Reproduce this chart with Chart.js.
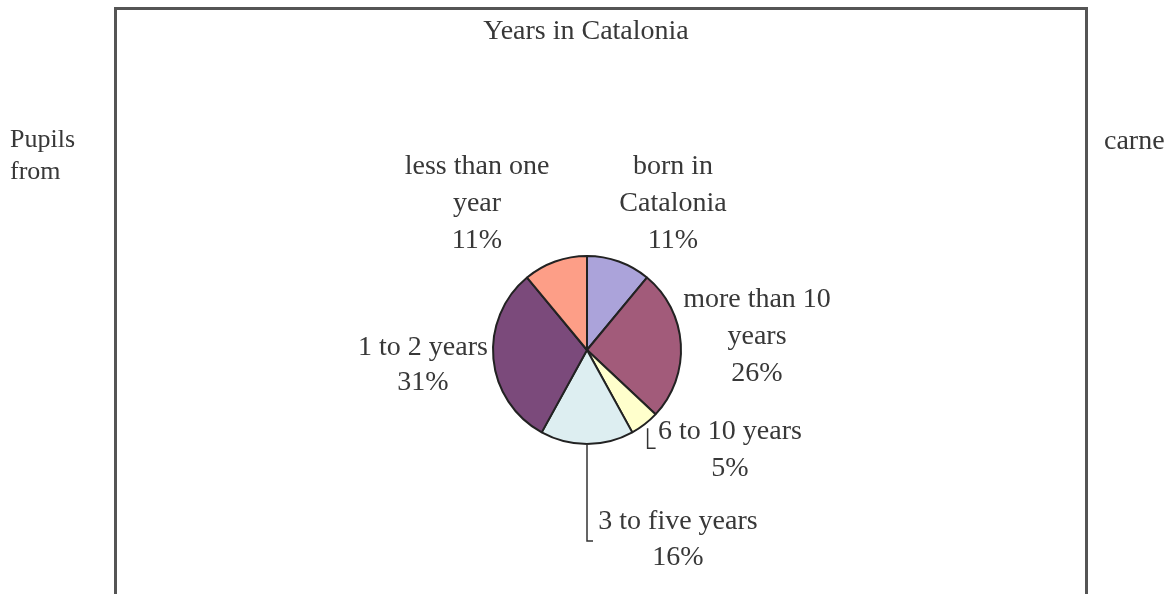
<!DOCTYPE html>
<html lang="en">

<head>
    <meta charset="UTF-8">
    <title>Years in Catalonia</title>
    <script src="https://cdn.jsdelivr.net/npm/chart.js"></script>
    <style>
        body { margin: 0; background: #fff; }
        #wrap { width: 1169px; height: 594px; position: relative; }
    </style>
</head>

<body>
    <div id="wrap">
        <canvas id="yearsPie"></canvas>
    </div>
    <script>

        // Share of pupils by years lived in Catalonia (clockwise from the top)
        const categories = ['born in Catalonia', 'more than 10 years', '6 to 10 years',
            '3 to five years', '1 to 2 years', 'less than one year'];
        const shares = [11, 26, 5, 16, 31, 11];
        const labelLines = [
            ['born in', 'Catalonia'],
            ['more than 10', 'years'],
            ['6 to 10 years'],
            ['3 to five years'],
            ['1 to 2 years'],
            ['less than one', 'year']
        ];
        const sliceColors = ['#aba3da', '#a25b7a', '#ffffcc', '#ddeef1', '#7b4a7b', '#fd9e87'];

        // label placement relative to the pie centre: [dx, dy, line gap]
        const labelLayout = [
            [86, -183, 37],
            [170, -50, 37],
            [143, 82, 37],
            [91, 172, 36],
            [-164, -2, 35],
            [-110, -183, 37]
        ];

        const serif = "'Liberation Serif', 'Times New Roman', serif";
        const textColor = '#383838';

        const framePlugin = {
            id: 'frame',
            beforeDraw(chart) {
                const ctx = chart.ctx;
                ctx.save();
                ctx.strokeStyle = '#555';
                ctx.lineWidth = 3;
                ctx.beginPath();
                ctx.moveTo(115.5, 594);
                ctx.lineTo(115.5, 8.5);
                ctx.lineTo(1086.5, 8.5);
                ctx.lineTo(1086.5, 594);
                ctx.stroke();

                ctx.fillStyle = textColor;
                ctx.font = '28px ' + serif;
                ctx.textBaseline = 'middle';
                ctx.textAlign = 'center';
                ctx.fillText('Years in Catalonia', 586, 32);
                ctx.textAlign = 'left';
                ctx.fillText('carne', 1104, 142);
                ctx.font = '26px ' + serif;
                ctx.fillText('Pupils', 10, 140);
                ctx.fillText('from', 10, 172);
                ctx.restore();
            },
            afterDraw(chart) {
                const ctx = chart.ctx;
                const arcs = chart.getDatasetMeta(0).data;
                if (!arcs.length) return;
                const cx = arcs[0].x, cy = arcs[0].y;
                ctx.save();
                ctx.fillStyle = textColor;
                ctx.font = '28px ' + serif;
                ctx.textAlign = 'center';
                ctx.textBaseline = 'middle';
                arcs.forEach((arc, i) => {
                    const [dx, dy, gap] = labelLayout[i];
                    const lines = labelLines[i].concat(shares[i] + '%');
                    lines.forEach((t, k) => ctx.fillText(t, cx + dx, cy + dy + k * gap));
                });

                // leader lines for the two small slices at the bottom
                ctx.strokeStyle = '#333';
                ctx.lineWidth = 1.5;
                const tip = (i) => {
                    const a = arcs[i];
                    const mid = (a.startAngle + a.endAngle) / 2;
                    return [a.x + Math.cos(mid) * a.outerRadius, a.y + Math.sin(mid) * a.outerRadius];
                };
                let [x, y] = tip(2);
                ctx.beginPath();
                ctx.moveTo(x + 3, y + 4);
                ctx.lineTo(x + 3, y + 24);
                ctx.lineTo(x + 11, y + 24);
                ctx.stroke();
                [x, y] = tip(3);
                ctx.beginPath();
                ctx.moveTo(x, y);
                ctx.lineTo(x, y + 97);
                ctx.lineTo(x + 6, y + 97);
                ctx.stroke();
                ctx.restore();
            }
        };

        const config = {
            type: 'pie',
            data: {
                labels: categories,
                datasets: [{
                    data: shares,
                    backgroundColor: sliceColors,
                    borderColor: '#222',
                    borderWidth: 2
                }]
            },
            options: {
                responsive: true,
                maintainAspectRatio: false,
                animation: false,
                layout: {
                    padding: { left: 492, right: 487, top: 255, bottom: 149 }
                },
                plugins: {
                    legend: { display: false },
                    tooltip: { enabled: false },
                    title: { display: false }
                }
            },
            plugins: [framePlugin]
        };

        const ctx = document.querySelector('#yearsPie').getContext('2d');
        const myChart = new Chart(ctx, config);

    </script>
</body>

</html>
